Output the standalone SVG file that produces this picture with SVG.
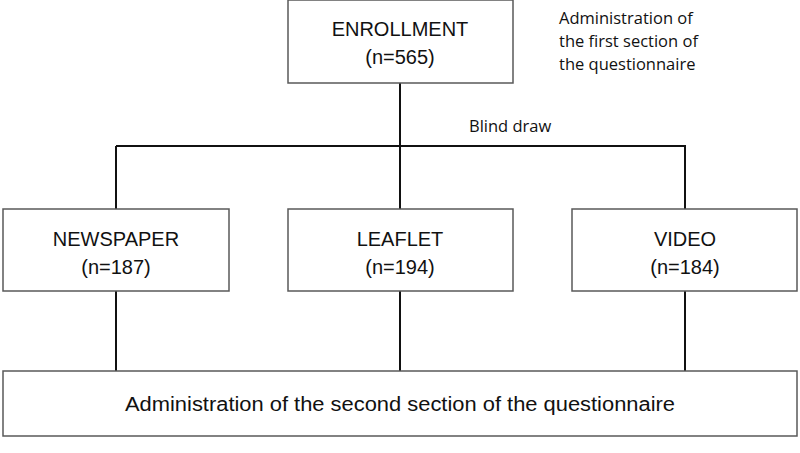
<svg xmlns="http://www.w3.org/2000/svg" width="800" height="453" viewBox="0 0 800 453">
<style>
.box{fill:#fff;stroke:#595959;stroke-width:1.5}
.t{font-family:"Liberation Sans",Arial,sans-serif;font-size:20px;fill:#111;text-anchor:middle}
.s{font-family:"Open Sans","Liberation Sans",sans-serif;font-size:16.5px;fill:#111}
.c{stroke:#111;stroke-width:2;fill:none}
</style>
<rect width="800" height="453" fill="#fff"/>
<g id="connectors">
<line class="c" x1="400" y1="83" x2="400" y2="209"/>
<line class="c" x1="116" y1="146" x2="686" y2="146"/>
<line class="c" x1="116" y1="146" x2="116" y2="209"/>
<line class="c" x1="685" y1="146" x2="685" y2="209"/>
<line class="c" x1="116" y1="291" x2="116" y2="371"/>
<line class="c" x1="400" y1="291" x2="400" y2="371"/>
<line class="c" x1="685" y1="291" x2="685" y2="371"/>
</g>
<g id="enrollment">
<rect class="box" x="288" y="0" width="225" height="83"/>
<text class="t" x="400" y="36">ENROLLMENT</text>
<text class="t" x="400" y="64">(n=565)</text>
</g>
<g id="note-first">
<text class="s" x="559" y="24">Administration of</text>
<text class="s" x="559" y="47">the first section of</text>
<text class="s" x="559" y="70">the questionnaire</text>
</g>
<g id="blind-draw">
<text class="s" x="469" y="132">Blind draw</text>
</g>
<g id="newspaper">
<rect class="box" x="3" y="209" width="226" height="82"/>
<text class="t" x="116" y="246">NEWSPAPER</text>
<text class="t" x="116" y="274">(n=187)</text>
</g>
<g id="leaflet">
<rect class="box" x="288" y="209" width="225" height="82"/>
<text class="t" x="400" y="246">LEAFLET</text>
<text class="t" x="400" y="274">(n=194)</text>
</g>
<g id="video">
<rect class="box" x="572" y="209" width="225" height="82"/>
<text class="t" x="685" y="246">VIDEO</text>
<text class="t" x="685" y="274">(n=184)</text>
</g>
<g id="second-section">
<rect class="box" x="3" y="371" width="794" height="65"/>
<text class="t" x="400" y="411" textLength="550" lengthAdjust="spacingAndGlyphs">Administration of the second section of the questionnaire</text>
</g>
</svg>
